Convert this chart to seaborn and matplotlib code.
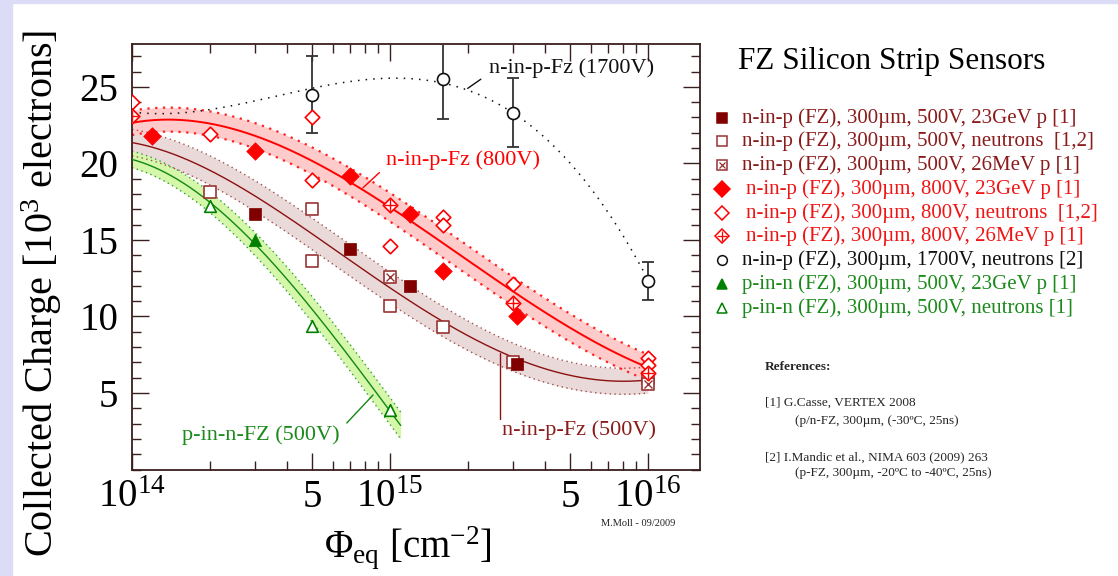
import numpy as np
import matplotlib
matplotlib.use('Agg')
import matplotlib.pyplot as plt
import seaborn as sns
from matplotlib.lines import Line2D
from matplotlib.patches import Rectangle
from matplotlib.ticker import FixedLocator, FixedFormatter, LogLocator, MultipleLocator, NullFormatter

# ---------------- data ----------------
# n-in-p FZ 500V
dr_gev_phi = [3e14, 7e14, 1.2e15, 3.1e15]
dr_gev_q = [16.7, 14.4, 12.0, 6.9]
dr_neu_phi = [2e14, 5e14, 5e14, 1e15, 1.6e15, 3e15, 1e16]
dr_neu_q = [18.1, 17.0, 13.6, 10.7, 9.3, 7.0, 6.0]
dr_mev_phi = [1e15, 1e16]
dr_mev_q = [12.6, 5.6]
# n-in-p FZ 800V
r_gev_phi = [1.2e14, 3e14, 7e14, 1.2e15, 1.6e15, 3.1e15]
r_gev_q = [21.8, 20.8, 19.2, 16.7, 13.0, 10.0]
r_neu_phi = [1e14, 2e14, 5e14, 5e14, 1e15, 1.6e15, 1.6e15, 3e15, 1e16, 1e16]
r_neu_q = [24.0, 21.9, 23.0, 18.9, 14.6, 16.5, 16.0, 12.1, 7.3, 6.8]
r_mev_phi = [1e14, 1e15, 3e15, 1e16]
r_mev_q = [23.1, 17.3, 10.9, 6.3]
# n-in-p FZ 1700V
b_neu_phi = [5e14, 1.6e15, 3e15, 1e16]
b_neu_q = [24.5, 25.5, 23.3, 12.3]
b_neu_err = [2.5, 2.6, 2.25, 1.25]
# p-in-n FZ 500V
g_gev_phi = [3e14]
g_gev_q = [15.0]
g_neu_phi = [2e14, 5e14, 1e15]
g_neu_q = [17.2, 9.4, 3.9]

# fit curves (knots)
red_fit_phi = [1e14, 1.5e14, 2e14, 5e14, 1e15, 1.6e15, 3e15, 1e16]
red_fit_q = [23.0, 22.6, 22.2, 20.2, 17.8, 14.8, 11.1, 6.8]
dr_fit_phi = [1e14, 3e14, 7e14, 1.6e15, 3e15, 5e15, 7e15, 1e16]
dr_fit_q = [21.4, 17.6, 14.2, 9.3, 7.2, 6.3, 6.0, 5.7]
g_fit_phi = [1e14, 2e14, 3e14, 5e14, 1e15, 1.1e15]
g_fit_q = [20.3, 17.2, 15.1, 10.3, 3.7, 3.0]
b_fit_phi = [1e14, 2e14, 5e14, 1.3e15, 1.6e15, 2e15, 3e15, 7.8e15, 1e16]
b_fit_q = [23.3, 23.7, 24.7, 25.3, 25.5, 24.9, 23.3, 15.3, 12.6]

x_tick_vals = [1e14, 5e14, 1e15, 5e15, 1e16]
x_tick_labels = ['$10^{14}$', '5', '$10^{15}$', '5', '$10^{16}$']
y_tick_vals = [5, 10, 15, 20, 25]

legend_labels = [
    'n-in-p (FZ), 300µm, 500V, 23GeV p [1]',
    'n-in-p (FZ), 300µm, 500V, neutrons  [1,2]',
    'n-in-p (FZ), 300µm, 500V, 26MeV p [1]',
    'n-in-p (FZ), 300µm, 800V, 23GeV p [1]',
    'n-in-p (FZ), 300µm, 800V, neutrons  [1,2]',
    'n-in-p (FZ), 300µm, 800V, 26MeV p [1]',
    'n-in-p (FZ), 300µm, 1700V, neutrons [2]',
    'p-in-n (FZ), 300µm, 500V, 23GeV p [1]',
    'p-in-n (FZ), 300µm, 500V, neutrons [1]',
]

# ---------------- style ----------------
sns.set_theme(style='ticks')
plt.rcParams['font.family'] = ['Liberation Serif', 'DejaVu Serif']
plt.rcParams['mathtext.fontset'] = 'custom'
plt.rcParams['mathtext.rm'] = 'Liberation Serif'
plt.rcParams['mathtext.it'] = 'Liberation Serif:italic'
plt.rcParams['mathtext.bf'] = 'Liberation Serif:bold'

DARKRED = '#800000'
DR_TXT = '#8b1a1a'
DR_OPEN = '#993333'
RED = '#ff0000'
RED_TXT = '#f01515'
GREEN = '#008000'
G_TXT = '#1a8a1a'
BLACK = '#111111'
SPINE = '#3a1f1f'

W, H = 1118, 576
fig = plt.figure(figsize=(W / 100, H / 100), dpi=100)
fig.patch.set_facecolor('white')
fig.patches.append(Rectangle((0, 0), 12 / W, 1, transform=fig.transFigure, color='#dcdcf6', zorder=0))
fig.patches.append(Rectangle((0, 1 - 3 / H), 1, 3 / H, transform=fig.transFigure, color='#dcdcf6', zorder=0))

L, R, T, B = 132, 700, 44, 469.5
ax = fig.add_axes([L / W, 1 - B / H, (R - L) / W, (B - T) / H])
XMIN, XMAX = 1e14, 10 ** 16.2016
YMIN, YMAX = 0.0, 27.8
ax.set_xscale('log')
ax.set_xlim(XMIN, XMAX)
ax.set_ylim(YMIN, YMAX)
ax.set_facecolor('white')

px_per_dec = (R - L) / np.log10(XMAX / XMIN)
px_per_unit = (B - T) / (YMAX - YMIN)


def fit(phi, q, deg, lo, hi, n=300):
    u = np.log10(phi)
    c = np.polyfit(u, q, deg)
    uu = np.linspace(np.log10(lo), np.log10(hi), n)
    return 10 ** uu, np.polyval(c, uu), np.polyval(np.polyder(c), uu)


def draw_band(phi, q, deg, lo, hi, half_px, fill, edge, line, lw, elw):
    x, f, df = fit(phi, q, deg, lo, hi)
    s = df * px_per_unit / px_per_dec
    w = half_px * np.sqrt(1 + s ** 2) / px_per_unit
    ax.fill_between(x, f - w, f + w, color=fill, lw=0, zorder=1)
    ax.plot(x, f + w, ls=(0, (1, 2.5)), color=edge, lw=elw, zorder=2)
    ax.plot(x, f - w, ls=(0, (1, 2.5)), color=edge, lw=elw, zorder=2)
    sns.lineplot(x=x, y=f, ax=ax, color=line, lw=lw, zorder=3, sort=False)


draw_band(dr_fit_phi, dr_fit_q, 4, 1e14, 1e16, 13, '#ead9d9', '#a05050', '#8b1010', 1.0, 1.0)
draw_band(red_fit_phi, red_fit_q, 3, 1e14, 1e16, 12, '#ffcaca', '#ff2020', RED, 1.4, 1.6)
draw_band(g_fit_phi, g_fit_q, 3, 1e14, 1.1e15, 8, '#d4f7aa', '#3a9a3a', '#118811', 1.0, 1.0)

# black dotted curve
bx, bf, _ = fit(b_fit_phi, b_fit_q, 4, 1e14, 9.6e15)
ax.plot(bx, bf, ls=(0, (1, 4)), color=BLACK, lw=1.1, zorder=3)

# error bars
ax.errorbar(b_neu_phi, b_neu_q, yerr=b_neu_err, fmt='none', ecolor='#333333',
            elinewidth=1.3, capsize=4, capthick=1.3, zorder=4)


def sc(x, y, marker, s, face, edge, lw=1.2, z=6):
    sns.scatterplot(x=x, y=y, ax=ax, marker=marker, s=s, color=face,
                    edgecolor=edge, linewidth=lw, zorder=z, legend=False)


sc(dr_neu_phi, dr_neu_q, 's', 70, 'white', DR_OPEN)
sc(dr_mev_phi, dr_mev_q, 's', 70, 'white', DR_OPEN)
ax.plot(dr_mev_phi, dr_mev_q, ls='none', marker='x', ms=5.5, mew=1.0, color=DR_OPEN, zorder=7)
sc(dr_gev_phi, dr_gev_q, 's', 65, DARKRED, DARKRED, lw=0.5)
sc(r_neu_phi, r_neu_q, 'D', 55, 'white', RED)
sc(r_mev_phi, r_mev_q, 'D', 55, 'white', RED)
ax.plot(r_mev_phi, r_mev_q, ls='none', marker='+', ms=8, mew=1.0, color=RED, zorder=7)
sc(r_gev_phi, r_gev_q, 'D', 80, RED, RED, lw=0.5)
sc(b_neu_phi, b_neu_q, 'o', 75, 'white', BLACK, lw=1.2, z=8)
sc(g_neu_phi, g_neu_q, '^', 70, 'white', GREEN)
sc(g_gev_phi, g_gev_q, '^', 80, GREEN, GREEN, lw=0.5)

# annotations
ax.plot([2.0e15, 2.25e15], [24.9, 25.5], color=BLACK, lw=1.0, zorder=5)
ax.text(5.04e15, 26.2, 'n-in-p-Fz (1700V)', color=BLACK, fontsize=16, ha='center', va='center')
ax.plot([7.85e14, 9.1e14], [18.4, 19.4], color=RED, lw=1.0, zorder=5)
ax.text(1.92e15, 20.2, 'n-in-p-Fz (800V)', color=RED, fontsize=16, ha='center', va='center')
ax.plot([6.8e14, 8.6e14], [3.04, 4.87], color='#118811', lw=1.0, zorder=5)
ax.text(3.16e14, 2.25, 'p-in-n-FZ (500V)', color=G_TXT, fontsize=16, ha='center', va='center')
ax.plot([2.67e15, 2.67e15], [7.6, 3.3], color='#8b1010', lw=1.0, zorder=5)
ax.text(5.4e15, 2.6, 'n-in-p-Fz (500V)', color=DR_TXT, fontsize=16, ha='center', va='center')

# axes styling
ax.xaxis.set_major_locator(FixedLocator(x_tick_vals))
ax.xaxis.set_major_formatter(FixedFormatter(x_tick_labels))
ax.xaxis.set_minor_locator(LogLocator(base=10, subs=[2, 3, 4, 6, 7, 8, 9]))
ax.xaxis.set_minor_formatter(NullFormatter())
ax.yaxis.set_major_locator(FixedLocator(y_tick_vals))
ax.yaxis.set_minor_locator(MultipleLocator(1))
ax.tick_params(which='both', direction='in', top=True, right=True, color=SPINE, width=1.0)
ax.tick_params(which='major', length=12, labelsize=28, labelcolor='black')
ax.tick_params(which='minor', length=6.5)
ax.tick_params(axis='x', which='major', pad=7)
ax.tick_params(axis='y', which='major', pad=10)
for sp in ax.spines.values():
    sp.set_color(SPINE)
    sp.set_linewidth(1.3)
    sp.set_visible(True)

fig.text(42 / W, 1 - 293 / H, 'Collected Charge [10$^{3}$ electrons]', rotation=90,
         ha='center', va='center', fontsize=29, color='black')
fig.text(408 / W, 1 - 548 / H, r'$\Phi_{\rm eq}$ [cm$^{-2}$]', ha='center', va='center',
         fontsize=28, color='black')
fig.text(638 / W, 1 - 523 / H, 'M.Moll - 09/2009', ha='center', va='center', fontsize=7.5, color='#222222')

# title + legend
fig.text(892 / W, 1 - 62 / H, 'FZ Silicon Strip Sensors', ha='center', va='center', fontsize=22.5, color='black')

leg_styles = [
    dict(marker='s', ms=7, mfc=DARKRED, mec=DARKRED, extra=None),
    dict(marker='s', ms=7, mfc='white', mec=DR_OPEN, extra=None),
    dict(marker='s', ms=7, mfc='white', mec=DR_OPEN, extra='x'),
    dict(marker='D', ms=8, mfc=RED, mec=RED, extra=None),
    dict(marker='D', ms=7, mfc='white', mec=RED, extra=None),
    dict(marker='D', ms=7, mfc='white', mec=RED, extra='+'),
    dict(marker='o', ms=7, mfc='white', mec=BLACK, extra=None),
    dict(marker='^', ms=7.5, mfc=GREEN, mec=GREEN, extra=None),
    dict(marker='^', ms=7.5, mfc='white', mec=GREEN, extra=None),
]
leg_colors = [DR_TXT, DR_TXT, DR_TXT, RED_TXT, RED_TXT, RED_TXT, BLACK, G_TXT, G_TXT]
for i, (lab, st, col) in enumerate(zip(legend_labels, leg_styles, leg_colors)):
    yy = 1 - (117.7 + i * 23.75) / H
    xm = 722 / W
    fig.add_artist(Line2D([xm], [yy], transform=fig.transFigure, ls='none', marker=st['marker'],
                          ms=st['ms'], mfc=st['mfc'], mec=st['mec'], mew=1.1))
    if st['extra']:
        fig.add_artist(Line2D([xm], [yy], transform=fig.transFigure, ls='none', marker=st['extra'],
                              ms=5 if st['extra'] == 'x' else 7, mec=st['mec'], mew=0.9))
    tx = (746 if i in (3, 4, 5) else 742) / W
    fig.text(tx, yy, lab, ha='left', va='center', fontsize=15, color=col)

# references
fig.text(765 / W, 1 - 367 / H, 'References:', fontsize=9.5, fontweight='bold', ha='left', va='center')
fig.text(765 / W, 1 - 403 / H, '[1] G.Casse, VERTEX 2008', fontsize=9.5, ha='left', va='center')
fig.text(795 / W, 1 - 421 / H, '(p/n-FZ, 300µm, (-30ºC, 25ns)', fontsize=9.5, ha='left', va='center')
fig.text(765 / W, 1 - 457 / H, '[2] I.Mandic et al., NIMA 603 (2009) 263', fontsize=9.5, ha='left', va='center')
fig.text(795 / W, 1 - 473 / H, '(p-FZ, 300µm, -20ºC to -40ºC, 25ns)', fontsize=9.5, ha='left', va='center')

fig.savefig('out.png', dpi=100, facecolor='white')
